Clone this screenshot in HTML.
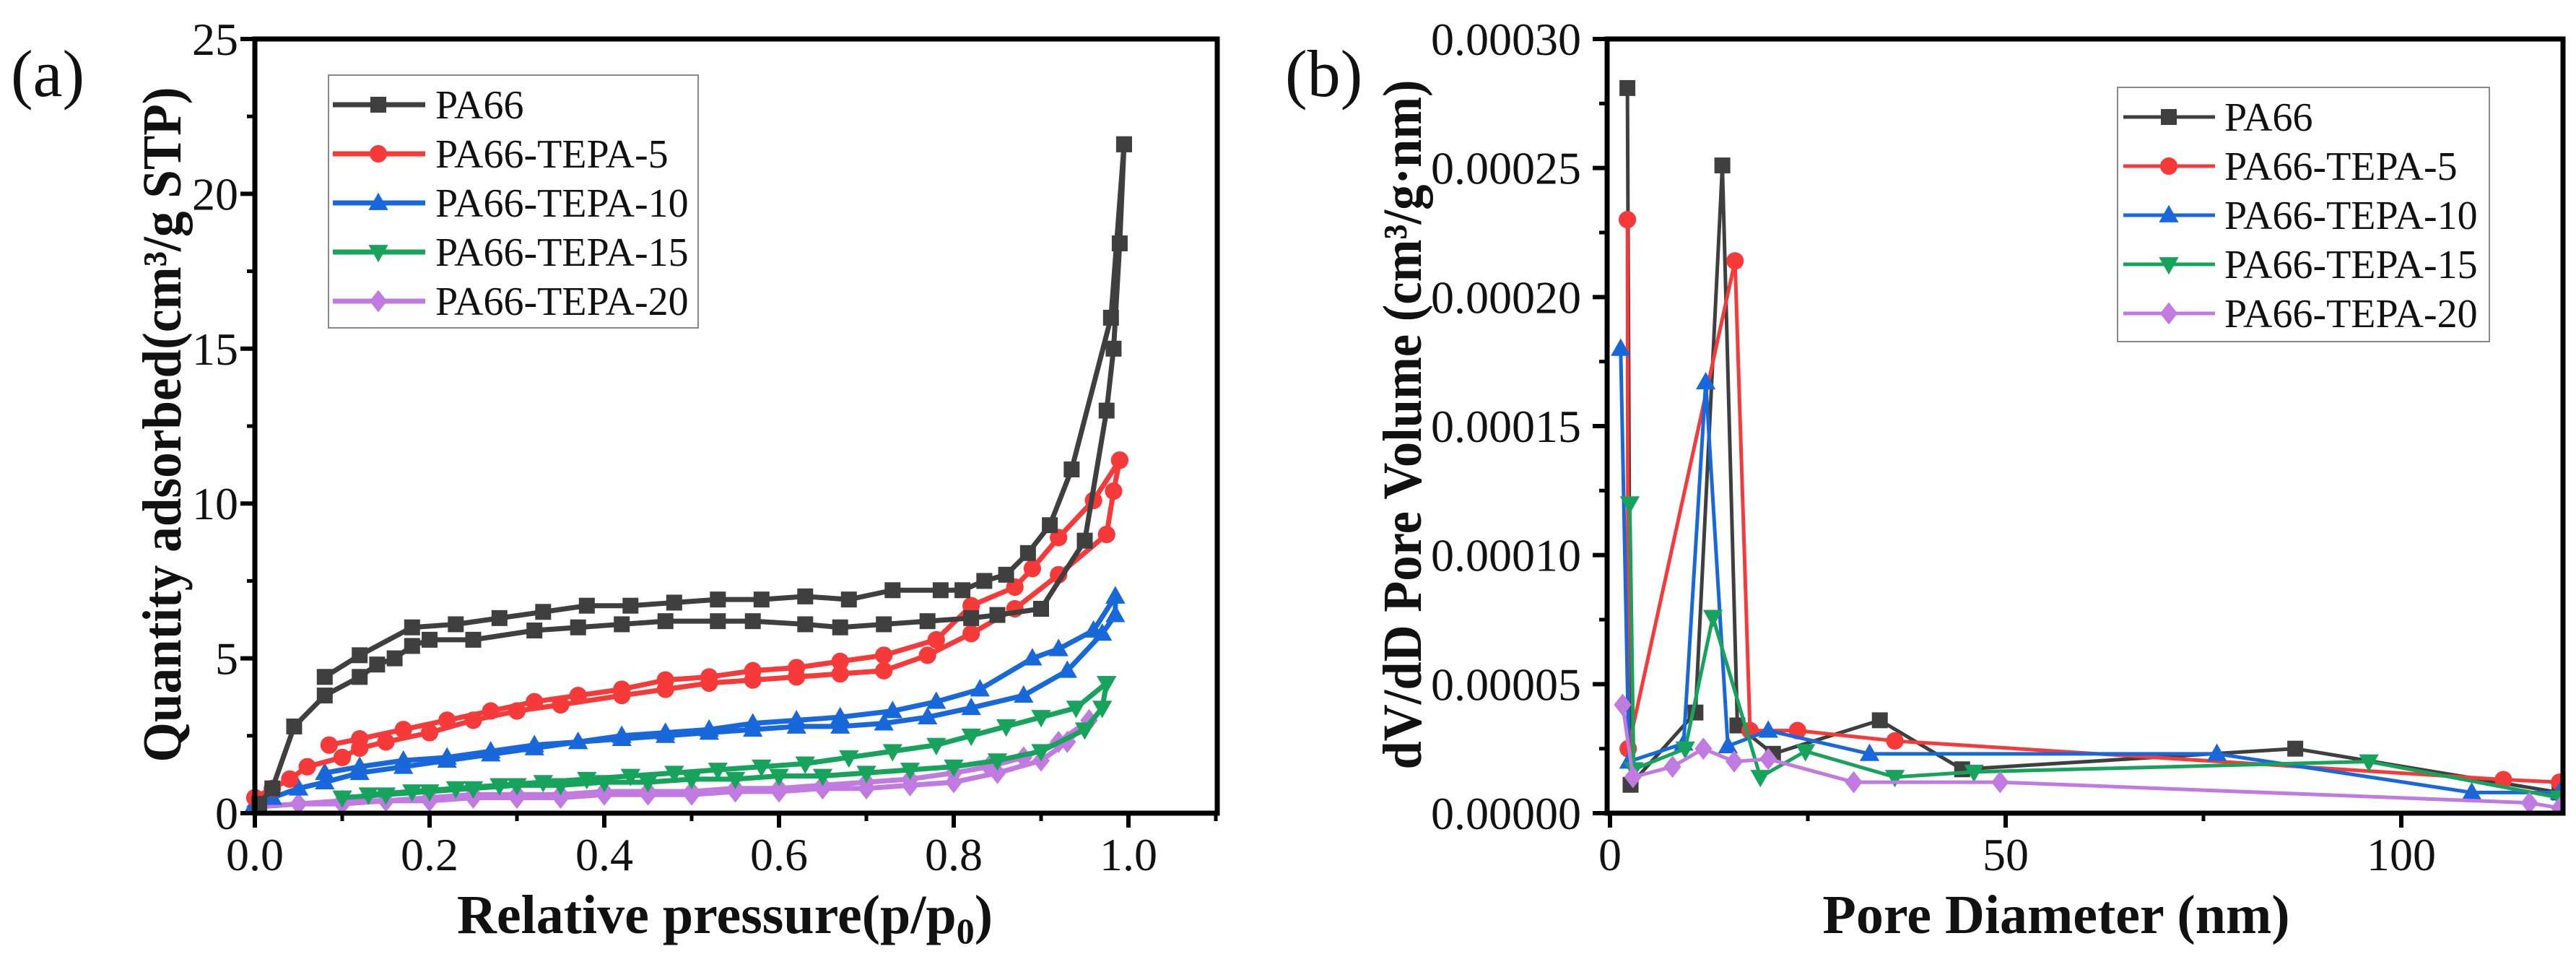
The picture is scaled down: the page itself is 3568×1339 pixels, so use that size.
<!DOCTYPE html>
<html><head><meta charset="utf-8"><style>
html,body{margin:0;padding:0;background:#fff;}
svg{display:block;}
text{font-family:"Liberation Serif","Times New Roman",serif;}
</style></head><body>
<svg id="fig" width="3568" height="1339" viewBox="0 0 3568 1339" xmlns="http://www.w3.org/2000/svg" font-family="Liberation Serif, serif">
<g id="pa"></g>
<g id="pb"></g>
</svg>
<script>
// ---------- Panel (a) data ----------
const seriesNames = ["PA66","PA66-TEPA-5","PA66-TEPA-10","PA66-TEPA-15","PA66-TEPA-20"];
const seriesColors = ["#3f3f3f","#f63a3a","#1868dc","#17a35c","#c07ae0"];
const markerShapes = ["square","circle","up","down","diamond"];
const aXTicks = [0,0.2,0.4,0.6,0.8,1.0];
const aXTickLabels = ["0.0","0.2","0.4","0.6","0.8","1.0"];
const aYTicks = [0,5,10,15,20,25];
const aYTickLabels = ["0","5","10","15","20","25"];
const pa66Ads = [[0.005,0.3],[0.02,0.8],[0.045,2.8],[0.08,3.8],[0.12,4.4],[0.14,4.8],[0.16,5.0],[0.18,5.4],[0.2,5.6],[0.25,5.6],[0.32,5.9],[0.37,6.0],[0.42,6.1],[0.47,6.2],[0.53,6.2],[0.57,6.2],[0.63,6.1],[0.67,6.0],[0.72,6.1],[0.77,6.2],[0.82,6.3],[0.85,6.4],[0.9,6.6],[0.95,8.8],[0.975,13.0],[0.983,15.0],[0.99,18.4],[0.995,21.6]];
const pa66Des = [[0.995,21.6],[0.98,16.0],[0.935,11.1],[0.91,9.3],[0.885,8.4],[0.86,7.7],[0.835,7.5],[0.81,7.2],[0.785,7.2],[0.73,7.2],[0.68,6.9],[0.63,7.0],[0.58,6.9],[0.53,6.9],[0.48,6.8],[0.43,6.7],[0.38,6.7],[0.33,6.5],[0.28,6.3],[0.23,6.1],[0.18,6.0],[0.12,5.1],[0.08,4.4]];
const t5Ads = [[0.0,0.5],[0.02,0.8],[0.04,1.1],[0.06,1.5],[0.1,1.8],[0.12,2.1],[0.15,2.3],[0.2,2.6],[0.25,3.0],[0.3,3.3],[0.35,3.5],[0.42,3.8],[0.47,4.0],[0.52,4.2],[0.57,4.3],[0.62,4.4],[0.67,4.5],[0.72,4.6],[0.77,5.1],[0.82,5.8],[0.87,6.6],[0.92,7.7],[0.975,9.0],[0.983,10.4],[0.99,11.4]];
const t5Des = [[0.99,11.4],[0.96,10.1],[0.92,8.9],[0.89,7.9],[0.87,7.3],[0.82,6.7],[0.78,5.6],[0.72,5.1],[0.67,4.9],[0.62,4.7],[0.57,4.6],[0.52,4.4],[0.47,4.3],[0.42,4.0],[0.37,3.8],[0.32,3.6],[0.27,3.3],[0.22,3.0],[0.17,2.7],[0.12,2.4],[0.085,2.2]];
const t10Ads = [[0.0,0.3],[0.02,0.5],[0.05,0.8],[0.08,1.0],[0.12,1.3],[0.17,1.5],[0.22,1.7],[0.27,1.9],[0.32,2.1],[0.37,2.3],[0.42,2.4],[0.47,2.5],[0.52,2.6],[0.57,2.7],[0.62,2.8],[0.67,2.8],[0.72,2.9],[0.77,3.1],[0.82,3.4],[0.88,3.8],[0.93,4.6],[0.97,5.8],[0.985,6.4],[0.985,7.0]];
const t10Des = [[0.985,7.0],[0.96,5.9],[0.92,5.3],[0.89,5.0],[0.83,4.0],[0.78,3.6],[0.73,3.3],[0.67,3.1],[0.62,3.0],[0.57,2.9],[0.52,2.7],[0.47,2.6],[0.42,2.5],[0.37,2.3],[0.32,2.2],[0.27,2.0],[0.22,1.8],[0.17,1.7],[0.12,1.5],[0.08,1.3]];
const t15Ads = [[0.1,0.5],[0.15,0.6],[0.2,0.7],[0.25,0.8],[0.3,0.9],[0.35,0.9],[0.4,1.0],[0.45,1.0],[0.5,1.1],[0.55,1.1],[0.6,1.2],[0.65,1.2],[0.7,1.3],[0.75,1.4],[0.8,1.5],[0.85,1.7],[0.9,2.0],[0.95,2.7],[0.97,3.4],[0.975,4.2]];
const t15Des = [[0.975,4.2],[0.94,3.4],[0.9,3.1],[0.86,2.8],[0.82,2.5],[0.78,2.2],[0.73,2.0],[0.68,1.8],[0.63,1.6],[0.58,1.5],[0.53,1.4],[0.48,1.3],[0.43,1.2],[0.38,1.1],[0.33,1.0],[0.28,0.9],[0.23,0.8],[0.18,0.7],[0.13,0.6]];
const t20Ads = [[0.0,0.2],[0.05,0.3],[0.1,0.3],[0.15,0.4],[0.2,0.4],[0.25,0.5],[0.3,0.5],[0.35,0.5],[0.4,0.6],[0.45,0.6],[0.5,0.6],[0.55,0.7],[0.6,0.7],[0.65,0.8],[0.7,0.8],[0.75,0.9],[0.8,1.0],[0.85,1.3],[0.9,1.7],[0.93,2.3],[0.955,3.0]];
const t20Des = [[0.955,3.0],[0.92,2.3],[0.88,1.8],[0.84,1.5],[0.8,1.3],[0.75,1.1],[0.7,1.0],[0.65,0.9],[0.6,0.8],[0.55,0.8],[0.5,0.7],[0.45,0.7],[0.4,0.7],[0.35,0.6],[0.3,0.6],[0.25,0.6],[0.2,0.5],[0.15,0.4],[0.1,0.4],[0.05,0.3]];
// ---------- Panel (b) data ----------
const bXTicks = [0,50,100];
const bXTickLabels = ["0","50","100"];
const bYTicks = [0,0.00005,0.0001,0.00015,0.0002,0.00025,0.0003];
const bYTickLabels = ["0.00000","0.00005","0.00010","0.00015","0.00020","0.00025","0.00030"];
const psdPA66 = [[2.2,0.000281],[2.6,0.000011],[10.8,0.000039],[14.2,0.000251],[16.1,0.000034],[20.6,0.000023],[34.1,0.000036],[44.5,0.000017],[86.6,0.000025],[120,0.000008]];
const psdT5 = [[2.2,0.00023],[2.3,0.000025],[15.8,0.000214],[17.7,0.000032],[23.7,0.000032],[36.0,0.000028],[112.9,0.000013],[120,0.000012]];
const psdT10 = [[1.35,0.00018],[2.4,0.00002],[9.3,0.000027],[12.1,0.000167],[14.9,0.000026],[20.0,0.000032],[32.8,0.000023],[76.7,0.000023],[108.9,0.000008],[120,0.000008]];
const psdT15 = [[2.5,0.00012],[3.0,0.000017],[9.5,0.000025],[13.0,0.000076],[19.0,0.000014],[24.7,0.000024],[36.0,0.000014],[46.0,0.000016],[95.9,0.00002],[120,0.000006]];
const psdT20 = [[1.6,0.000042],[2.9,0.000014],[7.9,0.000018],[11.8,0.000025],[15.7,0.00002],[20.0,0.000021],[30.8,0.000012],[49.3,0.000012],[116.2,0.000004],[120,0.000002]];

const NS="http://www.w3.org/2000/svg";
const FONT='"Liberation Serif", serif';
function mk(tag,attrs,parent){const e=document.createElementNS(NS,tag);for(const k in attrs)e.setAttribute(k,attrs[k]);parent.appendChild(e);return e;}
function marker(g,shape,x,y,s,color){
  let e;
  if(shape==="square")e=mk("rect",{x:x-s/2,y:y-s/2,width:s,height:s,fill:color},g);
  else if(shape==="circle")e=mk("circle",{cx:x,cy:y,r:s*0.55,fill:color},g);
  else if(shape==="up")e=mk("polygon",{points:`${x},${y-s*0.65} ${x-s*0.62},${y+s*0.45} ${x+s*0.62},${y+s*0.45}`,fill:color},g);
  else if(shape==="down")e=mk("polygon",{points:`${x},${y+s*0.65} ${x-s*0.62},${y-s*0.45} ${x+s*0.62},${y-s*0.45}`,fill:color},g);
  else e=mk("polygon",{points:`${x},${y-s*0.7} ${x+s*0.55},${y} ${x},${y+s*0.7} ${x-s*0.55},${y}`,fill:color},g);
  
  
}
function txt(g,x,y,s,size,opts){const t=mk("text",Object.assign({x:x,y:y,"font-size":size,fill:"#111"},opts||{}),g);t.style.fontFamily=FONT;t.textContent=s;return t;}

// ---------- Panel (a) ----------
(function(){
  const g=document.getElementById("pa");
  const L=353,R=1686,T=54,B=1126;
  const x=v=>L+v*1210, y=v=>B-v*(B-T)/25;
  const sets=[[pa66Ads,pa66Des],[t5Ads,t5Des],[t10Ads,t10Des],[t15Ads,t15Des],[t20Ads,t20Des]];
  for(let i=sets.length-1;i>=0;i--){
    const sg=mk("g",{},g);
    
    
    sets[i].forEach(br=>{
      const pl=mk("polyline",{points:br.map(p=>x(p[0])+","+y(p[1])).join(" "),fill:"none",stroke:seriesColors[i],"stroke-width":7,"stroke-linejoin":"round"},sg);
      
      
      br.forEach(p=>marker(sg,markerShapes[i],x(p[0]),y(p[1]),22,seriesColors[i]));
    });
  }
  const fr=mk("rect",{x:L,y:T,width:R-L,height:B-T,fill:"none",stroke:"#000","stroke-width":7},g);
   
  aXTicks.forEach((v,i)=>{
    mk("line",{x1:x(v),y1:B,x2:x(v),y2:B+20,stroke:"#000","stroke-width":6},g);
    mk("line",{x1:x(v+0.1),y1:B,x2:x(v+0.1),y2:B+11,stroke:"#000","stroke-width":5},g);
    const t=txt(g,x(v),1205,aXTickLabels[i],64,{"text-anchor":"middle"});
     
  });
  aYTicks.forEach((v,i)=>{
    mk("line",{x1:L,y1:y(v),x2:L-20,y2:y(v),stroke:"#000","stroke-width":6},g);
    if(v<25)mk("line",{x1:L,y1:y(v+2.5),x2:L-11,y2:y(v+2.5),stroke:"#000","stroke-width":5},g);
    const t=txt(g,330,y(v)+22,aYTickLabels[i],64,{"text-anchor":"end"});
     
  });
  const xt=txt(g,1004,1292,"",76,{"text-anchor":"middle","font-weight":"bold"});
  xt.innerHTML='Relative pressure(p/p<tspan font-size="50" dy="14">0</tspan><tspan dy="-14">)</tspan>';
   
  const yt=txt(g,0,0,"Quantity adsorbed(cm³/g STP)",76,{"text-anchor":"middle","font-weight":"bold",transform:"translate(250,588) rotate(-90)",textLength:"935",lengthAdjust:"spacingAndGlyphs"});
   
  const lab=txt(g,15,133,"(a)",92,{});
   
  const lg=mk("g",{},g);  
  mk("rect",{x:455,y:104,width:512,height:350,fill:"#fff",stroke:"#888","stroke-width":2},lg);
  seriesNames.forEach((n,i)=>{
    const yy=145+i*68;
    const e=mk("g",{},lg);  
    mk("line",{x1:461,y1:yy,x2:589,y2:yy,stroke:seriesColors[i],"stroke-width":7},e);
    marker(e,markerShapes[i],524,yy,22,seriesColors[i]);
    txt(e,603,yy+19,n,56,{});
  });
})();

// ---------- Panel (b) ----------
(function(){
  const g=document.getElementById("pb");
  const L=2226,R=3550,T=54,B=1126;
  const x0=2230,k=(3326-2230)/100;
  const x=v=>x0+v*k, y=v=>B-v/0.0003*(B-T);
  const sets=[psdPA66,psdT5,psdT10,psdT15,psdT20];
  const clip=mk("clipPath",{id:"cb"},g); mk("rect",{x:L,y:T-40,width:R-L,height:B-T+40},clip);
  const pg=mk("g",{"clip-path":"url(#cb)"},g);
  sets.forEach((d,i)=>{
    const sg=mk("g",{},pg);
    
    
    const pl=mk("polyline",{points:d.map(p=>x(p[0])+","+y(p[1])).join(" "),fill:"none",stroke:seriesColors[i],"stroke-width":5,"stroke-linejoin":"round"},sg);
     
    d.forEach(p=>marker(sg,markerShapes[i],x(p[0]),y(p[1]),22,seriesColors[i]));
  });
  const fr=mk("rect",{x:L,y:T,width:R-L,height:B-T,fill:"none",stroke:"#000","stroke-width":7},g);
   
  bXTicks.forEach((v,i)=>{
    mk("line",{x1:x(v),y1:B,x2:x(v),y2:B+20,stroke:"#000","stroke-width":6},g);
    mk("line",{x1:x(v+25),y1:B,x2:x(v+25),y2:B+11,stroke:"#000","stroke-width":5},g);
    const t=txt(g,x(v),1205,bXTickLabels[i],64,{"text-anchor":"middle"});
     
  });
  bYTicks.forEach((v,i)=>{
    mk("line",{x1:L,y1:y(v),x2:L-20,y2:y(v),stroke:"#000","stroke-width":6},g);
    if(i<bYTicks.length-1)mk("line",{x1:L,y1:y(v+0.000025),x2:L-11,y2:y(v+0.000025),stroke:"#000","stroke-width":5},g);
    const t=txt(g,2190,y(v)+22,bYTickLabels[i],64,{"text-anchor":"end"});
     
  });
  const xt=txt(g,2848,1292,"Pore Diameter (nm)",76,{"text-anchor":"middle","font-weight":"bold"});
   
  const yt=txt(g,0,0,"dV/dD Pore Volume (cm³/g·nm)",76,{"text-anchor":"middle","font-weight":"bold",transform:"translate(1968,588) rotate(-90)",textLength:"955",lengthAdjust:"spacingAndGlyphs"});
   
  const lab=txt(g,1780,133,"(b)",92,{});
   
  const lg=mk("g",{},g);  
  mk("rect",{x:2933,y:121,width:515,height:352,fill:"#fff",stroke:"#888","stroke-width":2},lg);
  seriesNames.forEach((n,i)=>{
    const yy=162+i*68;
    const e=mk("g",{},lg);  
    mk("line",{x1:2941,y1:yy,x2:3068,y2:yy,stroke:seriesColors[i],"stroke-width":5},e);
    marker(e,markerShapes[i],3004,yy,22,seriesColors[i]);
    txt(e,3081,yy+19,n,56,{});
  });
})();
</script>
</body></html>
